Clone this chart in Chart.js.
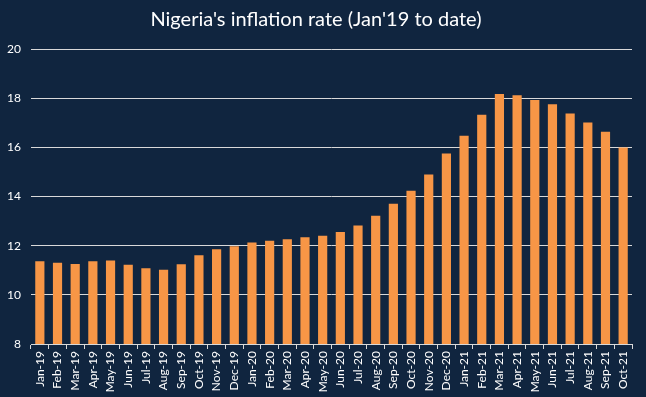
<!DOCTYPE html>
<html>
<head>
<meta charset="utf-8">
<script src="https://cdn.jsdelivr.net/npm/chart.js@4/dist/chart.umd.min.js"></script>
<style>
  html, body { margin: 0; padding: 0; background: #10253f; }
  #wrap { width: 646px; height: 397px; }
</style>
</head>
<body>
<div id="wrap"><canvas id="chart" width="646" height="397"></canvas></div>
<script>
// months shown on the x axis
const months = [
    'Jan-19', 'Feb-19', 'Mar-19', 'Apr-19', 'May-19', 'Jun-19', 'Jul-19', 'Aug-19', 'Sep-19', 'Oct-19', 'Nov-19', 'Dec-19',
    'Jan-20', 'Feb-20', 'Mar-20', 'Apr-20', 'May-20', 'Jun-20', 'Jul-20', 'Aug-20', 'Sep-20', 'Oct-20', 'Nov-20', 'Dec-20',
    'Jan-21', 'Feb-21', 'Mar-21', 'Apr-21', 'May-21', 'Jun-21', 'Jul-21', 'Aug-21', 'Sep-21', 'Oct-21'
];

// headline inflation rate, %
const inflation = [
    11.37, 11.31, 11.25, 11.37, 11.40, 11.22, 11.08, 11.02, 11.24, 11.61, 11.85, 11.98,
    12.13, 12.20, 12.26, 12.34, 12.40, 12.56, 12.82, 13.22, 13.71, 14.23, 14.89, 15.75,
    16.47, 17.33, 18.17, 18.12, 17.93, 17.75, 17.38, 17.01, 16.63, 15.99
];

const yMin = 8;
const yMax = 20;
const yStep = 2;

const textColor = '#ffffff';
const gridColor = '#d9d9d9';
const barColor = '#f79646';
const fontFamily = 'Lato, "Open Sans", sans-serif';

new Chart(document.getElementById('chart'), {
    type: 'bar',
    data: {
        labels: months,
        datasets: [
            {
                label: 'Inflation rate',
                data: inflation,
                backgroundColor: barColor,
                borderWidth: 0,
                categoryPercentage: 1,
                barPercentage: 0.52
            }
        ]
    },
    options: {
        responsive: false,
        animation: false,
        layout: {
            padding: { left: 0, right: 14, top: 0, bottom: 0 }
        },
        plugins: {
            legend: { display: false },
            tooltip: { enabled: false },
            title: {
                display: true,
                text: "Nigeria's inflation rate (Jan'19 to date)",
                color: textColor,
                font: { family: fontFamily, size: 20, weight: 'normal' },
                padding: { top: 8, bottom: 17 }
            }
        },
        scales: {
            x: {
                grid: {
                    display: true,
                    drawOnChartArea: false,
                    offset: true,
                    color: gridColor,
                    tickLength: 5
                },
                border: { display: true, color: gridColor, width: 1 },
                ticks: {
                    color: textColor,
                    font: { family: fontFamily, size: 12 },
                    minRotation: 90,
                    maxRotation: 90,
                    autoSkip: false,
                    padding: 2
                },
                afterFit: function (scale) {
                    scale.height = 53;
                }
            },
            y: {
                min: yMin,
                max: yMax,
                ticks: {
                    stepSize: yStep,
                    color: textColor,
                    font: { family: fontFamily, size: 12 },
                    padding: 10
                },
                grid: {
                    color: gridColor,
                    lineWidth: 1,
                    drawTicks: false
                },
                border: { display: false },
                afterFit: function (scale) {
                    scale.width = 31;
                }
            }
        }
    }
});
</script>
</body>
</html>
